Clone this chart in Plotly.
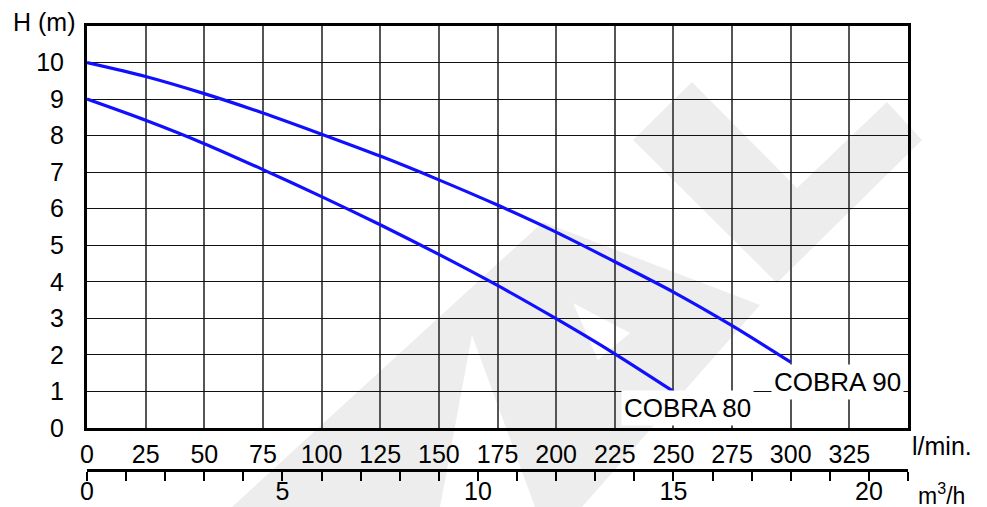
import plotly.graph_objects as go

# ---- data ----
flow_lmin = [0, 25, 50, 75, 100, 125, 150, 175, 200, 225, 250, 275, 300]
cobra90_h = [10.0, 9.62, 9.15, 8.62, 8.04, 7.44, 6.79, 6.1, 5.36, 4.55, 3.72, 2.8, 1.8]
flow80_lmin = [0, 25, 50, 75, 100, 125, 150, 175, 200, 225, 250]
cobra80_h = [9.0, 8.42, 7.78, 7.07, 6.33, 5.56, 4.75, 3.9, 2.99, 2.03, 1.0]

lmin_ticks = [0, 25, 50, 75, 100, 125, 150, 175, 200, 225, 250, 275, 300, 325]
h_ticks = list(range(0, 11))
m3h_ticks = list(range(0, 22))
m3h_labels = [str(v) if v % 5 == 0 else "" for v in m3h_ticks]

X_MAX = 350
Y_MAX = 11
LMIN_PER_M3H = 1000 / 60

FONT = "Liberation Sans, Arial, sans-serif"
BLUE = "rgb(16,16,255)"

# ---- layout geometry (pixels) ----
W, H = 987, 507
ML, MR, MT, MB = 87, 79, 26, 37
plot_bottom_px = 428
paper_h = H - MT - MB
ydom0 = (H - MB - plot_bottom_px) / paper_h


def px(x, y):
    return (x - ML) / (W - ML - MR), (H - MB - y) / paper_h


fig = go.Figure()

fig.add_trace(go.Scatter(x=flow_lmin, y=cobra90_h, mode="lines",
                         line=dict(color=BLUE, width=3.2, shape="spline", smoothing=0.8),
                         name="COBRA 90", showlegend=False))
fig.add_trace(go.Scatter(x=flow80_lmin, y=cobra80_h, mode="lines",
                         line=dict(color=BLUE, width=3.2, shape="spline", smoothing=0.8),
                         name="COBRA 80", showlegend=False))
# invisible trace to activate second x axis
fig.add_trace(go.Scatter(x=[0, X_MAX / LMIN_PER_M3H], y=[0, 0], xaxis="x2", mode="lines",
                         line=dict(width=0), hoverinfo="skip", showlegend=False))

# ---- watermark (decorative light grey logo) ----
def poly(points):
    pts = [px(x, y) for x, y in points]
    return "M " + " L ".join(f"{a:.4f},{b:.4f}" for a, b in pts) + " Z"

wm_grey = "#ededed"
shapes = []
shapes.append(dict(type="path", xref="paper", yref="paper", layer="below",
                   path=poly([(232, 507), (543, 222), (760, 305), (582, 507)]),
                   fillcolor=wm_grey, line=dict(width=0)))
shapes.append(dict(type="path", xref="paper", yref="paper", layer="below",
                   path=poly([(440, 507), (472, 335), (535, 507)]),
                   fillcolor="white", line=dict(width=0)))
shapes.append(dict(type="path", xref="paper", yref="paper", layer="below",
                   path=poly([(573, 303), (630, 333), (598, 360)]),
                   fillcolor="white", line=dict(width=0)))
shapes.append(dict(type="path", xref="paper", yref="paper", layer="below",
                   path=poly([(692, 82), (633, 140), (777, 283), (922, 140), (887, 102), (797, 188)]),
                   fillcolor=wm_grey, line=dict(width=0)))

ann = []
ann.append(dict(text="H (m)", xref="paper", yref="paper", x=px(44, 0)[0], y=px(0, 22)[1],
                xanchor="center", yanchor="middle", showarrow=False,
                font=dict(family=FONT, size=25, color="black")))
ann.append(dict(text="l/min.", xref="paper", yref="paper", x=px(942, 0)[0], y=px(0, 446)[1],
                xanchor="center", yanchor="middle", showarrow=False,
                font=dict(family=FONT, size=25, color="black")))
ann.append(dict(text="m<sup>3</sup>/h", xref="paper", yref="paper", x=px(942, 0)[0], y=px(0, 494)[1],
                xanchor="center", yanchor="middle", showarrow=False,
                font=dict(family=FONT, size=23, color="black")))
ann.append(dict(text="COBRA 80", x=256, y=0.55, xref="x", yref="y",
                xanchor="center", yanchor="middle", showarrow=False, bgcolor="white",
                borderpad=2, font=dict(family=FONT, size=26, color="black")))
ann.append(dict(text="COBRA 90", x=320, y=1.26, xref="x", yref="y",
                xanchor="center", yanchor="middle", showarrow=False, bgcolor="white",
                borderpad=2, font=dict(family=FONT, size=26, color="black")))

fig.update_layout(
    width=W, height=H,
    margin=dict(l=ML, r=MR, t=MT, b=MB, autoexpand=False),
    paper_bgcolor="white", plot_bgcolor="white",
    font=dict(family=FONT, size=25, color="black"),
    shapes=shapes, annotations=ann,
    xaxis=dict(range=[0, X_MAX], tickvals=lmin_ticks, ticktext=[str(v) for v in lmin_ticks],
               showgrid=True, gridcolor="#555555", gridwidth=1.5,
               showline=True, linecolor="black", linewidth=3, mirror=True,
               ticks="outside", ticklen=2, tickcolor="rgba(0,0,0,0)",
               zeroline=False, fixedrange=True, automargin=False,
               tickfont=dict(family=FONT, size=25)),
    yaxis=dict(range=[0, Y_MAX], domain=[ydom0, 1], tickvals=h_ticks,
               showgrid=True, gridcolor="#111111", gridwidth=1,
               showline=True, linecolor="black", linewidth=3, mirror=True,
               ticks="outside", ticklen=15, tickcolor="rgba(0,0,0,0)",
               zeroline=False, fixedrange=True, automargin=False,
               tickfont=dict(family=FONT, size=25)),
    xaxis2=dict(range=[0, X_MAX / LMIN_PER_M3H], overlaying="x", anchor="free", position=0,
                side="bottom", tickvals=m3h_ticks, ticktext=m3h_labels,
                showline=True, linecolor="black", linewidth=2.5,
                ticks="outside", ticklen=9, tickwidth=2, tickcolor="black",
                ticklabelstandoff=-11,
                showgrid=False, zeroline=False, fixedrange=True, automargin=False,
                tickfont=dict(family=FONT, size=25)),
)

fig.write_html("out.html", config={"displayModeBar": False},
               post_script="document.body.style.margin='0';document.body.style.padding='0';"
                           "document.body.style.overflow='hidden';")
